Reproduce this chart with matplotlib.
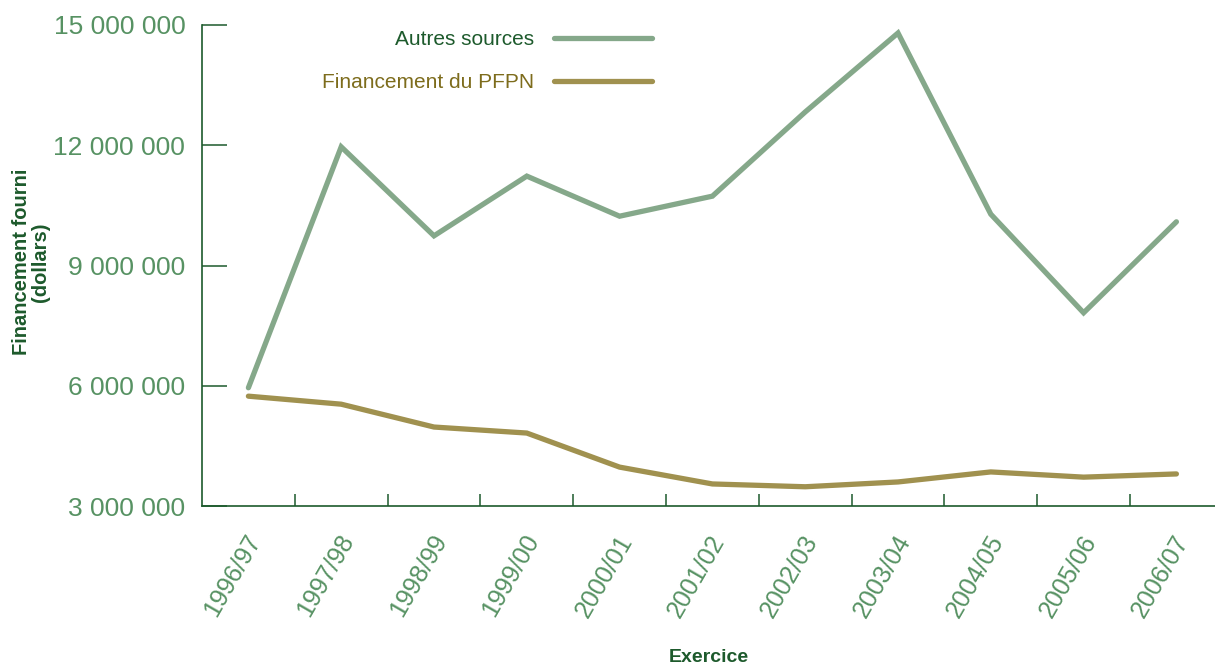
import matplotlib
matplotlib.use("Agg")
import matplotlib.pyplot as plt
from matplotlib.ticker import FuncFormatter, FixedLocator
from matplotlib.transforms import ScaledTranslation

years = ["1996/97", "1997/98", "1998/99", "1999/00", "2000/01", "2001/02",
         "2002/03", "2003/04", "2004/05", "2005/06", "2006/07"]
autres_sources = [5950000, 11960000, 9740000, 11230000, 10230000, 10730000,
                  12830000, 14800000, 10280000, 7820000, 10090000]
financement_pfpn = [5740000, 5540000, 4970000, 4820000, 3970000, 3550000,
                    3480000, 3600000, 3850000, 3720000, 3800000]
y_ticks = [3000000, 6000000, 9000000, 12000000, 15000000]

DARK = "#1d5a2c"
TICKTXT = "#579263"
C_AUTRES = "#85a88a"
C_PFPN = "#a0914f"
LEG_PFPN = "#7d6c1c"

W, H = 1215, 668
fig = plt.figure(figsize=(W / 100, H / 100), dpi=100)
left = 202 / W
bottom = (H - 506) / H
top = (H - 25) / H
ax = fig.add_axes([left, bottom, 1.0 - left, top - bottom])

x = list(range(len(years)))
ax.plot(x, autres_sources, color=C_AUTRES, lw=3.8, solid_capstyle="round",
        solid_joinstyle="miter", label="Autres sources")
ax.plot(x, financement_pfpn, color=C_PFPN, lw=3.8, solid_capstyle="round",
        solid_joinstyle="miter", label="Financement du PFPN")

ax.set_ylim(3000000, 15000000)
px_per_cat = 92.8
ax.set_xlim(-0.5, -0.5 + (W - 202) / px_per_cat)

for s in ["top", "right"]:
    ax.spines[s].set_visible(False)
for s in ["left", "bottom"]:
    ax.spines[s].set_color(DARK)
    ax.spines[s].set_linewidth(1.2)

FAM = ["Liberation Sans", "DejaVu Sans"]
ax.set_yticks(y_ticks)
ax.yaxis.set_major_formatter(FuncFormatter(lambda v, p: f"{int(v):,}".replace(",", " ")))
ax.tick_params(axis="y", direction="in", length=18, width=1.1, color=DARK,
               pad=12, labelsize=19, labelcolor=TICKTXT)
for t in ax.get_yticklabels():
    t.set_fontfamily(FAM)

ax.set_xticks(x)
ax.set_xticklabels(years, rotation=60, ha="right", va="center", rotation_mode="anchor",
                   fontsize=18, color=TICKTXT, fontfamily=FAM)
ax.tick_params(axis="x", which="major", length=0, pad=22)
off = ScaledTranslation(7 / 100, 0, fig.dpi_scale_trans)
for t in ax.get_xticklabels():
    t.set_transform(t.get_transform() + off)
ax.xaxis.set_minor_locator(FixedLocator([i + 0.5 for i in range(len(years) - 1)]))
ax.tick_params(axis="x", which="minor", direction="in", length=9, width=1.1, color=DARK)

fig.text(709 / W, 1 - 657 / H, "Exercice", fontsize=14, fontweight="bold", color=DARK,
         family=FAM, ha="center", va="center")

fig.text(31 / W, 1 - 262 / H, "Financement fourni\n(dollars)", rotation=90,
         fontsize=14.5, fontweight="bold", color=DARK, ha="center", va="center",
         multialignment="center", linespacing=1.0, family=FAM)

leg = ax.legend(loc="upper right", bbox_to_anchor=(652 / W, 1 - 30 / H),
                bbox_transform=fig.transFigure, frameon=False, markerfirst=False,
                alignment="right", handlelength=4.7, handletextpad=0.95,
                labelspacing=1.15, borderpad=0, borderaxespad=0,
                prop=dict(family=FAM, size=15))
leg.get_texts()[0].set_color(DARK)
leg.get_texts()[1].set_color(LEG_PFPN)

fig.savefig("out.png", dpi=100)
